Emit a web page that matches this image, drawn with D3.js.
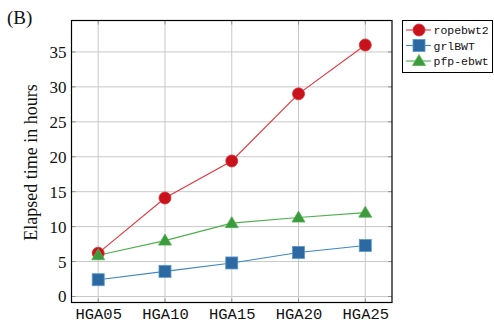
<!DOCTYPE html>
<html><head><meta charset="utf-8">
<script src="https://cdn.jsdelivr.net/npm/d3@7"></script>
<style>body{margin:0;background:#fff}svg{display:block}</style>
</head><body><svg id="c" width="494" height="322"></svg>
<script>
const categories = ["HGA05","HGA10","HGA15","HGA20","HGA25"];
const ropebwt2 = [6.2, 14.1, 19.4, 29.0, 36.0];
const grlBWT = [2.4, 3.6, 4.8, 6.3, 7.3];
const pfpEbwt = [5.9, 8.0, 10.5, 11.3, 12.0];
const yTicks = [0,5,10,15,20,25,30,35];
const seriesNames = ["ropebwt2","grlBWT","pfp-ebwt"];

const svg = d3.select("#c");
const L = 71.5, R = 392, T = 20.5, B = 302.5;
const x = d3.scaleLinear().domain([-0.4, 4.4]).range([L, R]);
const y = d3.scaleLinear().domain([-0.86, 39.5]).range([B, T]);
const serif = "'Liberation Serif', 'DejaVu Serif', serif";
const mono = "'Liberation Mono', 'DejaVu Sans Mono', monospace";

// grid
const g = svg.append("g");
g.selectAll(".gy").data(yTicks).join("line")
  .attr("x1", L).attr("x2", R).attr("y1", d=>y(d)).attr("y2", d=>y(d))
  .attr("stroke", "#c8c8c8").attr("stroke-width", 1);
g.selectAll(".gx").data(categories).join("line")
  .attr("x1", (d,i)=>x(i)).attr("x2", (d,i)=>x(i)).attr("y1", T).attr("y2", B)
  .attr("stroke", "#c8c8c8").attr("stroke-width", 1);

// inner ticks
const tk = svg.append("g").attr("stroke", "#909090").attr("stroke-width", 1);
yTicks.forEach(d => {
  tk.append("line").attr("x1", L).attr("x2", L+4).attr("y1", y(d)).attr("y2", y(d));
  tk.append("line").attr("x1", R-4).attr("x2", R).attr("y1", y(d)).attr("y2", y(d));
});
categories.forEach((d,i) => {
  tk.append("line").attr("x1", x(i)).attr("x2", x(i)).attr("y1", B).attr("y2", B-4);
  tk.append("line").attr("x1", x(i)).attr("x2", x(i)).attr("y1", T).attr("y2", T+4);
});

// axes with D3 (labels only)
const ay = svg.append("g").attr("transform", `translate(${L},0)`)
  .call(d3.axisLeft(y).tickValues(yTicks).tickSize(0).tickPadding(5));
ay.select(".domain").remove();
ay.selectAll("text").attr("font-family", serif).attr("font-size", 17).attr("fill", "#111");
const ax = svg.append("g").attr("transform", `translate(0,${B})`)
  .call(d3.axisBottom(x).tickValues(d3.range(categories.length)).tickFormat(i=>categories[i]).tickSize(0).tickPadding(5));
ax.select(".domain").remove();
ax.selectAll("text").attr("font-family", mono).attr("font-size", 15.5).attr("fill", "#111");

// frame
svg.append("rect").attr("x", L).attr("y", T).attr("width", R-L).attr("height", B-T)
  .attr("fill", "none").attr("stroke", "#000").attr("stroke-width", 1.2);

const styles = [
  {data: ropebwt2, line: "#e8353b", fill: "#c8121c", stroke: "#e02a30", shape: "circle"},
  {data: grlBWT, line: "#3f86c4", fill: "#2b69a0", stroke: "#5a98cf", shape: "square"},
  {data: pfpEbwt, line: "#4cb04c", fill: "#3b9a3b", stroke: "#56b356", shape: "triangle"}
];
function marker(sel, s, cx, cy) {
  if (s.shape === "circle") sel.append("circle").attr("cx", cx).attr("cy", cy).attr("r", 6)
    .attr("fill", s.fill).attr("stroke", s.stroke).attr("stroke-width", 0.8);
  else if (s.shape === "square") sel.append("rect").attr("x", cx-6).attr("y", cy-6).attr("width", 12).attr("height", 12)
    .attr("fill", s.fill).attr("stroke", s.stroke).attr("stroke-width", 0.8);
  else sel.append("path").attr("d", `M${cx},${cy-6.5}L${cx+6.5},${cy+4.5}L${cx-6.5},${cy+4.5}Z`)
    .attr("fill", s.fill).attr("stroke", s.stroke).attr("stroke-width", 0.8);
}
const line = d3.line().x((d,i)=>x(i)).y(d=>y(d));
styles.forEach(s => {
  svg.append("path").attr("d", line(s.data)).attr("fill", "none").attr("stroke", s.line).attr("stroke-width", 1.1);
});
styles.forEach(s => {
  const mg = svg.append("g");
  s.data.forEach((v,i) => marker(mg, s, x(i), y(v)));
});

// legend
const lg = svg.append("g");
lg.append("rect").attr("x", 402.5).attr("y", 20.5).attr("width", 90).attr("height", 52)
  .attr("fill", "#fff").attr("stroke", "#000").attr("stroke-width", 1);
styles.forEach((s, i) => {
  const cy = 30 + i*15.5;
  lg.append("line").attr("x1", 406).attr("x2", 431).attr("y1", cy).attr("y2", cy)
    .attr("stroke", s.line).attr("stroke-width", 1.1);
  marker(lg, s, 419, cy);
  lg.append("text").attr("x", 433.5).attr("y", cy).attr("dy", "0.35em")
    .attr("font-family", mono).attr("font-size", 11.5).attr("fill", "#111").text(seriesNames[i]);
});

// y label
svg.append("text").attr("transform", `translate(37,${(T+B)/2+1}) rotate(-90)`)
  .attr("text-anchor", "middle").attr("font-family", serif).attr("font-size", 18).attr("fill", "#111")
  .text("Elapsed time in hours");
// panel label
svg.append("text").attr("x", 7).attr("y", 24).attr("font-family", serif).attr("font-size", 19).attr("fill", "#111").text("(B)");
</script></body></html>
